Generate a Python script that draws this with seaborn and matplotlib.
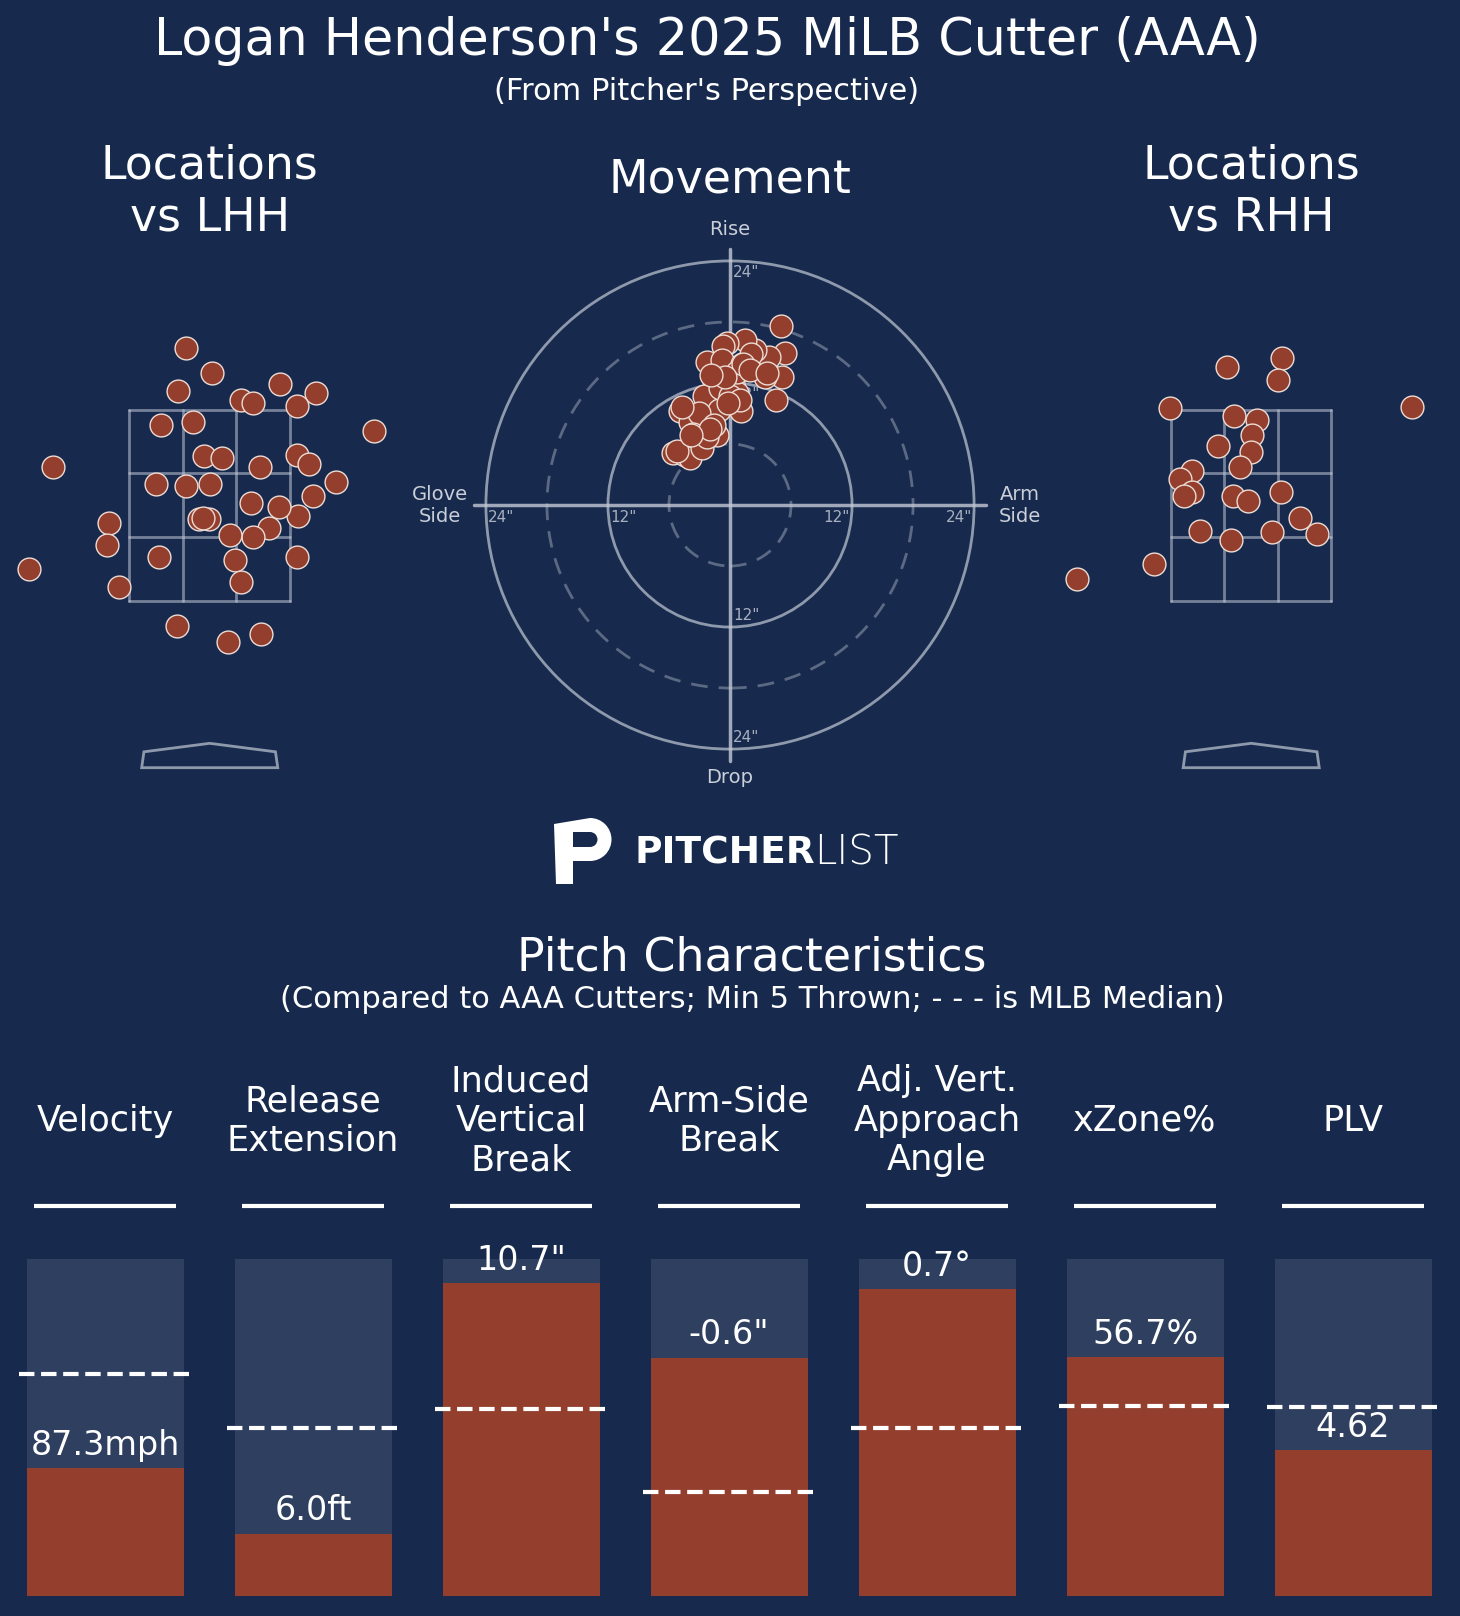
import matplotlib.pyplot as plt
from matplotlib.patches import Circle, Polygon, Wedge
import pandas as pd
import seaborn as sns

# colours
BG = "#172a4e"
BAR_BG = "#2e3f60"
ORANGE = "#943f2e"
EDGE = "#ecdcd4"
LINE = "#c3c9d5"

# movement (inches): horizontal break (glove side -, arm side +), induced vertical break
mov_hb = [5.0, 5.4, 5.1, 4.5, 3.4, 3.4, 3.8, 2.5, 1.5, -0.3, -0.7, -2.3, -0.8, 1.2, 0.3,
          -0.3, 0.7, 1.1, -1.6, -1.3, -2.6, -1.1, -4.9, -3.9, -3.0, -3.6, -1.3, -1.6, -5.6,
          -4.4, -3.9, -2.8, -2.3, 2.1, 0.7, 1.3, -1.0, 0.0, 1.0, -5.2, -4.7, -0.2, -2.0,
          -0.5, 2.0, -1.9, 3.6, -3.8]
mov_ivb = [17.6, 14.9, 12.6, 10.3, 13.8, 12.6, 14.6, 15.2, 16.2, 15.9, 15.6, 14.1, 14.3, 13.9, 12.0,
           11.3, 11.0, 9.2, 12.3, 11.0, 10.7, 9.3, 9.2, 8.2, 9.0, 7.0, 6.9, 7.9, 5.1,
           4.9, 4.6, 5.6, 6.7, 14.8, 13.1, 13.9, 11.5, 10.7, 10.3, 5.3, 9.6, 10.0, 7.5,
           12.6, 13.3, 12.8, 13.0, 6.9]

# pitch locations (feet) vs left-handed hitters
lhh_x = [-0.21, 0.02, -0.28, 0.28, 0.38, 0.62, 0.94, 0.77, 1.45, -0.43, -0.15, -0.05, 0.11, 0.44,
         0.77, 0.88, 1.11, 0.91, 0.78, 0.61, 0.52, 0.38, 0.18, 0.36, 0.00, -0.21, -0.47, -0.09,
         -0.01, -0.89, -0.91, -1.38, -1.59, -0.80, -0.45, 0.22, 0.28, 0.77, -0.29, 0.16, 0.45, -0.06]
lhh_z = [3.73, 3.51, 3.35, 3.27, 3.25, 3.41, 3.33, 3.22, 3.00, 3.05, 3.08, 2.78, 2.76, 2.68,
         2.79, 2.71, 2.55, 2.43, 2.25, 2.33, 2.14, 2.06, 2.08, 2.36, 2.53, 2.51, 2.53, 2.22,
         2.22, 2.19, 1.99, 2.68, 1.78, 1.62, 1.89, 1.86, 1.67, 1.89, 1.28, 1.14, 1.21, 2.23]

# pitch locations (feet) vs right-handed hitters
rhh_x = [-0.21, 0.27, 0.24, -0.72, 1.42, -0.15, 0.05, 0.01, -0.29, 0.00, -0.10, -0.52, -0.63,
         -0.52, -0.59, -0.16, -0.03, 0.26, 0.43, 0.58, 0.18, -0.18, -0.45, -0.86, -1.54]
rhh_z = [3.56, 3.64, 3.45, 3.20, 3.21, 3.13, 3.10, 2.96, 2.87, 2.81, 2.68, 2.65, 2.58,
         2.46, 2.43, 2.43, 2.38, 2.46, 2.23, 2.09, 2.11, 2.04, 2.12, 1.83, 1.69]

# pitch characteristics
metrics = ["Velocity", "Release\nExtension", "Induced\nVertical\nBreak", "Arm-Side\nBreak",
           "Adj. Vert.\nApproach\nAngle", "xZone%", "PLV"]
value_labels = ["87.3mph", "6.0ft", '10.7"', '-0.6"', "0.7°", "56.7%", "4.62"]
pct = [0.380, 0.185, 0.928, 0.707, 0.911, 0.709, 0.432]
median_pct = [0.659, 0.498, 0.555, 0.310, 0.498, 0.563, 0.560]

sns.set_theme(style="white", rc={"axes.facecolor": "none", "figure.facecolor": BG})
plt.rcParams["font.family"] = ["DejaVu Sans"]

W, H = 1460, 1616
fig = plt.figure(figsize=(W / 100, H / 100), dpi=100, facecolor=BG)


def add_ax(left, top, width, height):
    ax = fig.add_axes([left / W, 1 - (top + height) / H, width / W, height / H])
    ax.set_facecolor("none")
    return ax


def ftext(x, y, s, **kw):
    kw.setdefault("color", "white")
    kw.setdefault("ha", "center")
    kw.setdefault("va", "center")
    fig.text(x / W, 1 - y / H, s, **kw)


# ---- titles
ftext(707, 41, "Logan Henderson's 2025 MiLB Cutter (AAA)", fontsize=36.5)
ftext(707, 91, "(From Pitcher's Perspective)", fontsize=22)

# ---- location plots
SC = 113.4  # px per foot
ZONE_X = 0.708
ZONE_BOT, ZONE_TOP = 1.5, 3.187


def draw_zone(ax):
    xs = [-ZONE_X, -ZONE_X / 3, ZONE_X / 3, ZONE_X]
    h = (ZONE_TOP - ZONE_BOT) / 3
    zs = [ZONE_BOT, ZONE_BOT + h, ZONE_BOT + 2 * h, ZONE_TOP]
    for x in xs:
        ax.plot([x, x], [ZONE_BOT, ZONE_TOP], color=LINE, lw=2, alpha=0.55, zorder=1)
    for z in zs:
        ax.plot([-ZONE_X, ZONE_X], [z, z], color=LINE, lw=2, alpha=0.55, zorder=1)
    plate = Polygon([(-0.6, 0.03), (-0.58, 0.17), (0, 0.245), (0.58, 0.17), (0.6, 0.03)],
                    closed=True, fill=False, edgecolor=LINE, lw=2, alpha=0.7)
    ax.add_patch(plate)


for cx, half, xs, zs, title in [(209.7, 1.85, lhh_x, lhh_z, "Locations\nvs LHH"),
                                (1251.2, 1.8, rhh_x, rhh_z, "Locations\nvs RHH")]:
    ax = add_ax(cx - half * SC, 601 - 2.7 * SC, 2 * half * SC, 4.4 * SC)
    draw_zone(ax)
    sns.scatterplot(x=xs, y=zs, ax=ax, s=270, color=ORANGE, edgecolor=EDGE,
                    linewidth=1, zorder=3)
    ax.set_xlim(-half, half)
    ax.set_ylim(-0.2, 4.2)
    ax.axis("off")
    ftext(cx, 192, title, fontsize=33)

# ---- movement plot
MS = 10.17  # px per inch
ax = add_ax(730 - 30 * MS, 505 - 30 * MS, 60 * MS, 60 * MS)
for r, ls, a in [(6, (0, (6, 4)), 0.4), (12, "-", 0.7), (18, (0, (6, 4)), 0.4), (24, "-", 0.7)]:
    ax.add_patch(Circle((0, 0), r, fill=False, edgecolor=LINE, lw=2, ls=ls, alpha=a, zorder=1))
ax.plot([-25.2, 25.2], [0, 0], color=LINE, lw=2.5, alpha=0.8, zorder=1)
ax.plot([0, 0], [-25.2, 25.2], color=LINE, lw=2.5, alpha=0.8, zorder=1)

tick_kw = dict(fontsize=11, color="#a9b0bf", zorder=2)
ax.text(-24 + 0.2, -0.5, '24"', ha="left", va="top", **tick_kw)
ax.text(-12 + 0.2, -0.5, '12"', ha="left", va="top", **tick_kw)
ax.text(12 - 0.2, -0.5, '12"', ha="right", va="top", **tick_kw)
ax.text(24 - 0.2, -0.5, '24"', ha="right", va="top", **tick_kw)
ax.text(0.3, 24 - 0.4, '24"', ha="left", va="top", **tick_kw)
ax.text(0.3, 12 - 0.4, '12"', ha="left", va="top", **tick_kw)
ax.text(0.3, -12 + 0.4, '12"', ha="left", va="bottom", **tick_kw)
ax.text(0.3, -24 + 0.4, '24"', ha="left", va="bottom", **tick_kw)

lab_kw = dict(fontsize=14, color="#c9ced8", ha="center", va="center")
ax.text(0, 27.1, "Rise", **lab_kw)
ax.text(0, -26.8, "Drop", **lab_kw)
ax.text(-28.5, 0, "Glove\nSide", **lab_kw)
ax.text(28.5, 0, "Arm\nSide", **lab_kw)

sns.scatterplot(x=mov_hb, y=mov_ivb, ax=ax, s=270, color=ORANGE, edgecolor=EDGE,
                linewidth=1, zorder=3)
ax.set_xlim(-30, 30)
ax.set_ylim(-30, 30)
ax.axis("off")
ftext(730, 180, "Movement", fontsize=33)

# ---- logo (drawn in figure pixel space)
lax = fig.add_axes([0, 0, 1, 1])
lax.set_xlim(0, W)
lax.set_ylim(H, 0)
lax.axis("off")
lax.add_patch(Polygon([(554, 824), (590, 818), (590, 832), (573, 832), (573, 884), (556, 884)],
                      closed=True, facecolor="white", edgecolor="none"))
lax.add_patch(Wedge((590, 839.5), 21.5, -90, 90, width=14, facecolor="white", edgecolor="none"))
lax.add_patch(Polygon([(573, 847), (590, 847), (590, 861), (573, 861)],
                      closed=True, facecolor="white", edgecolor="none"))
ftext(634, 853, "PITCHER", fontsize=27, fontweight="bold", ha="left")
ftext(814, 853, "LIST", fontsize=29, fontweight="light", ha="left")

# ---- pitch characteristics
ftext(752, 958, "Pitch Characteristics", fontsize=33)
ftext(752, 999, "(Compared to AAA Cutters; Min 5 Thrown; - - - is MLB Median)", fontsize=22)

BH = 337  # px per unit of bar height
ax = add_ax(0, 1596 - 1.5 * BH, W, 1.5 * BH)
df = pd.DataFrame({"metric": metrics, "pct": pct, "full": [1.0] * len(metrics)})
sns.barplot(data=df, x="metric", y="full", color=BAR_BG, width=0.755, linewidth=0,
            saturation=1, errorbar=None, ax=ax)
sns.barplot(data=df, x="metric", y="pct", color=ORANGE, width=0.755, linewidth=0,
            saturation=1, errorbar=None, ax=ax)
for i, (name, p, m, lab) in enumerate(zip(metrics, pct, median_pct, value_labels)):
    ax.hlines(m, i - 0.415, i + 0.415, colors="white", linestyles="--", lw=3, zorder=4)
    ax.hlines(1.156, i - 0.34, i + 0.34, colors="white", lw=3)
    ax.text(i, 1.41, name, ha="center", va="center", fontsize=25.3, color="white")
    ax.text(i, p + 0.068, lab, ha="center", va="center", fontsize=24, color="white", zorder=5)
ax.set_xlim(-0.505, 6.514)
ax.set_ylim(0, 1.5)
ax.axis("off")

fig.savefig("out.png", dpi=100, facecolor=BG)
